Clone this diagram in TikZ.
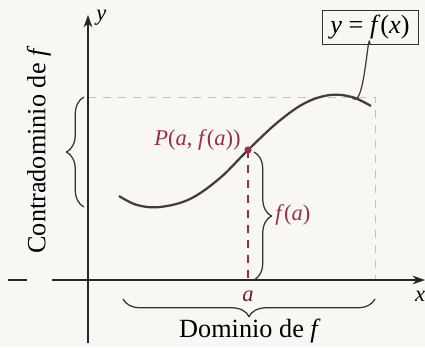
\documentclass[tikz,border=0pt]{standalone}
\usepackage{xcolor}
\usepackage{amsmath}
\usepackage{fontspec}
\setmainfont{Liberation Serif}
\usepackage{tikz}
\usetikzlibrary{arrows.meta,decorations.pathreplacing}

\definecolor{ptred}{RGB}{150,45,80}
\definecolor{curvegray}{RGB}{70,58,58}
\definecolor{guidegray}{RGB}{195,195,195}
\definecolor{paper}{RGB}{249,247,243}
\newcommand{\iv}[1]{\textit{#1}}

\begin{document}
\begin{tikzpicture}[x=0.4pt,y=0.4pt,yscale=-1,xscale=1,
  axis/.style={draw=black!85,line width=0.5pt},
  guide/.style={draw=guidegray,dashed,line width=0.4pt},
  curly/.style={draw=black!80,line width=0.5pt,decorate,decoration={brace,amplitude=7pt}},
  lbl/.style={inner sep=0.75pt,font=\fontsize{10.5}{12}\selectfont},
  small lbl/.style={inner sep=0.75pt,font=\fontsize{9}{11}\selectfont}]
%set diagram to 425 x 347
\useasboundingbox[fill=paper] (0,0) rectangle (425,347);

%Shape: dashed range box
\draw[guide] (88,97) -- (375,97) -- (375,280);

%Shape: axes
\draw[axis,-{Stealth[length=5pt,width=3.5pt]}] (88,343) -- (88,15);
\draw[axis,-{Stealth[length=5pt,width=3.5pt]}] (52,280) -- (425,280);
\draw[axis] (8,280) -- (27,280);

%Shape: graph of f
\draw[curvegray,line width=0.9pt] plot[smooth,tension=0.6] coordinates
  {(119,196) (137,205) (160,207) (190,199) (220,178) (248,150) (278,122) (305,103) (330,95) (352,97) (371,106)};
\coordinate (touch) at (352,97);

%Shape: point P and its ordinate
\coordinate (P) at (248,150);
\coordinate (Pfoot) at (248,280);
\draw[ptred,dashed,line width=0.6pt] (P) -- (Pfoot);
\fill[ptred] (P) circle (3.6);

%Shape: braces
\draw[curly] (254,152) -- (254,280);
\draw[curly] (84,207) -- (84,97);
\draw[curly] (375,299) -- (123,299);

% Text Node
\node[small lbl,text=ptred,anchor=east] (Plabel) at (243,140) {\iv{P}(\iv{a}, \iv{f}(\iv{a}))};
% Text Node
\node[small lbl,text=ptred,anchor=west] (falabel) at (273,215) {\iv{f}(\iv{a})};
% Text Node
\node[small lbl,text=ptred!70!black] (alabel) at (248,296) {\iv{a}};
% Text Node
\node[small lbl,anchor=west] (ylabel) at (94,18) {\iv{y}};
% Text Node
\node[small lbl] (xlabel) at (420,296) {\iv{x}};
% Text Node
\node[lbl] (domlabel) at (250,331) {Dominio de \iv{f}};
% Text Node
\node[lbl,rotate=90] (codlabel) at (39,150) {Contradominio de \iv{f}};
% Text Node
\node[lbl,draw=black!80,line width=0.4pt,minimum width=96*0.4pt,minimum height=34*0.4pt] (fbox) at (370,27) {\iv{y} = \iv{f}(\iv{x})};

%Shape: callout from box to curve
\draw[curvegray,line width=0.5pt] (fbox.south) to[out=-95,in=55] (touch);

\end{tikzpicture}
\end{document}
